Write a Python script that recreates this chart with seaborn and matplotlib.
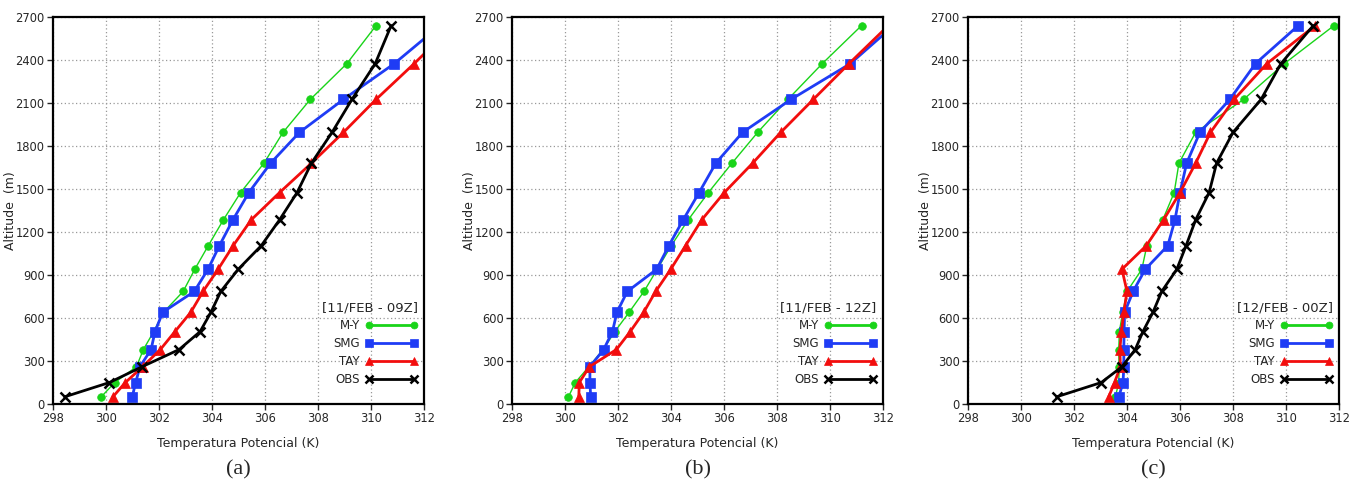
import numpy as np
import pandas as pd
import matplotlib
matplotlib.use("Agg")
import matplotlib.pyplot as plt
from matplotlib.lines import Line2D
import seaborn as sns

sns.set_style("white")
plt.rcParams['font.family'] = ['DejaVu Sans']

altitude = [50, 150, 260, 380, 505, 640, 785, 940, 1105, 1285, 1475, 1680, 1895, 2125, 2375, 2640]

# Panel (a) 11/FEB - 09Z
a_my  = [299.82, 300.33, 301.15, 301.41, 301.80, 302.17, 302.91, 303.35, 303.86, 304.43, 305.08, 305.96, 306.68, 307.71, 309.09, 310.19]
a_smg = [300.99, 301.12, 301.28, 301.70, 301.85, 302.14, 303.33, 303.85, 304.28, 304.79, 305.39, 306.21, 307.30, 308.96, 310.88, 312.60]
a_tay = [300.26, 300.73, 301.38, 302.05, 302.60, 303.20, 303.66, 304.23, 304.80, 305.48, 306.55, 307.75, 308.96, 310.19, 311.63, 313.10]
a_obs = [298.44, 300.13, 301.36, 302.76, 303.55, 303.96, 304.33, 304.99, 305.86, 306.55, 307.21, 307.75, 308.53, 309.28, 310.16, 310.76]

# Panel (b) 11/FEB - 12Z (no observation)
b_my  = [300.13, 300.39, 300.90, 301.44, 301.88, 302.42, 302.98, 303.48, 304.01, 304.65, 305.41, 306.30, 307.27, 308.41, 309.71, 311.19]
b_smg = [300.97, 300.94, 300.94, 301.46, 301.79, 301.96, 302.35, 303.46, 303.92, 304.46, 305.06, 305.69, 306.70, 308.53, 310.77, 312.40]
b_tay = [300.52, 300.54, 300.92, 301.94, 302.46, 302.97, 303.42, 303.99, 304.55, 305.16, 306.01, 307.08, 308.14, 309.37, 310.72, 312.20]
b_obs = [np.nan] * 16

# Panel (c) 12/FEB - 00Z
c_my  = [303.56, 303.69, 303.70, 303.69, 303.71, 303.84, 304.00, 304.56, 304.75, 305.35, 305.78, 305.96, 306.59, 308.40, 309.94, 311.81]
c_smg = [303.69, 303.85, 303.88, 303.88, 303.89, 303.91, 304.23, 304.69, 305.54, 305.81, 306.00, 306.25, 306.75, 307.88, 308.85, 310.46]
c_tay = [303.31, 303.53, 303.75, 303.73, 303.79, 303.88, 304.00, 303.81, 304.73, 305.38, 306.00, 306.59, 307.15, 308.04, 309.28, 311.10]
c_obs = [301.34, 303.03, 303.81, 304.31, 304.60, 304.98, 305.31, 305.88, 306.23, 306.59, 307.10, 307.38, 308.00, 309.06, 309.81, 311.03]

series_names = ["M-Y", "SMG", "TAY", "OBS"]
panel_titles = ["[11/FEB - 09Z]", "[11/FEB - 12Z]", "[12/FEB - 00Z]"]
panel_letters = ["(a)", "(b)", "(c)"]
panels = [
    [a_my, a_smg, a_tay, a_obs],
    [b_my, b_smg, b_tay, b_obs],
    [c_my, c_smg, c_tay, c_obs],
]
x_ticks = [298, 300, 302, 304, 306, 308, 310, 312]
y_ticks = [0, 300, 600, 900, 1200, 1500, 1800, 2100, 2400, 2700]

styles = {
    "M-Y": dict(color="#19d419", marker="o", lw=1.0, ms=5.5),
    "SMG": dict(color="#1f3cf5", marker="s", lw=2.0, ms=6.5),
    "TAY": dict(color="#f20d0d", marker="^", lw=2.0, ms=6.5),
    "OBS": dict(color="black", marker="x", lw=2.0, ms=6.5),
}

fig = plt.figure(figsize=(13.51, 4.88), dpi=100)
lefts = [53 / 1351, 512 / 1351, 968 / 1351]
width = 371 / 1351
bottom = 84 / 488
height = 387 / 488

for i in range(3):
    ax = fig.add_axes([lefts[i], bottom, width, height])
    for name, vals in zip(series_names, panels[i]):
        st = styles[name]
        df = pd.DataFrame({"theta": vals, "alt": altitude})
        if df["theta"].notna().any():
            sns.lineplot(data=df, x="theta", y="alt", sort=False, estimator=None,
                         ax=ax, color=st["color"], marker=st["marker"],
                         linewidth=st["lw"], markersize=st["ms"],
                         markeredgecolor=st["color"],
                         markeredgewidth=1.8 if name == "OBS" else 0.5)
    ax.set_xlim(298, 312)
    ax.set_ylim(0, 2700)
    ax.set_xticks(x_ticks)
    ax.set_yticks(y_ticks)
    ax.tick_params(axis="both", labelsize=8.3, length=4, width=1, direction="out",
                   left=True, bottom=True, pad=2)
    ax.grid(True, linestyle=(0, (1, 2)), color="#999999", linewidth=0.9)
    for sp in ax.spines.values():
        sp.set_color("black")
        sp.set_linewidth(1.6)
    ax.set_xlabel("Temperatura Potencial (K)", fontsize=9)
    ax.xaxis.set_label_coords(0.5, -0.085)
    ax.set_ylabel("Altitude  (m)", fontsize=9)
    ax.yaxis.set_label_coords(-0.097, 0.5)

    handles = []
    for name in series_names:
        st = styles[name]
        handles.append(Line2D([0], [0], color=st["color"], marker=st["marker"],
                              lw=2.0, ms=st["ms"] - 0.5, markeredgecolor=st["color"],
                              markeredgewidth=1.8 if name == "OBS" else 0.5))
    leg = ax.legend(handles, series_names, title=panel_titles[i], loc="lower right",
                    bbox_to_anchor=(1.005, 0.025), frameon=False, markerfirst=False,
                    numpoints=2, handlelength=4.4, fontsize=8.5, title_fontsize=9.5,
                    labelspacing=0.42, handletextpad=0.5, borderpad=0.2)
    leg._legend_box.align = "right"

    fig.text(lefts[i] + width / 2, 18 / 488, panel_letters[i], ha="center",
             va="center", fontsize=16, family=["Liberation Serif", "DejaVu Serif"])

fig.savefig("out.png", dpi=100, facecolor="white")
